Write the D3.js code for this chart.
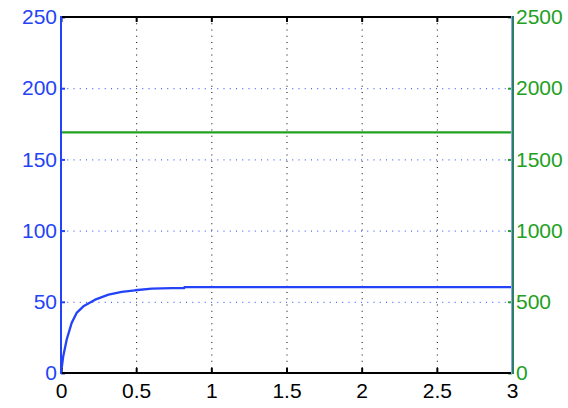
<!DOCTYPE html>
<html>
<head>
<meta charset="utf-8">
<script src="https://cdn.jsdelivr.net/npm/d3@7"></script>
<style>
  body { margin: 0; background: #fff; }
  text { font-family: "Liberation Sans", Arial, sans-serif; }
</style>
</head>
<body>
<script>
// values
const xTicks = [0, 0.5, 1, 1.5, 2, 2.5, 3]
const leftTicks = [0, 50, 100, 150, 200, 250]
const rightTicks = [0, 500, 1000, 1500, 2000, 2500]

// blue series (left axis)
const blueT = [0, 0.015, 0.038, 0.071, 0.104, 0.149, 0.227, 0.316, 0.404, 0.493, 0.604, 0.738, 0.82, 0.821, 3]
const blueV = [0, 11.8, 23.5, 35.2, 42.2, 46.8, 51.5, 55.0, 56.9, 58.1, 59.3, 59.6, 59.7, 60.3, 60.3]

// green series (right axis)
const greenT = [0, 3]
const greenV = [1690, 1690]

const width = 568, height = 408
const margin = {top: 17, right: 56, bottom: 35, left: 61}
const blue = "#2443f7", green = "#21a021"

const svg = d3.select("body").append("svg")
    .attr("width", width)
    .attr("height", height)

const x = d3.scaleLinear().domain([0, 3]).range([margin.left, width - margin.right])
const yL = d3.scaleLinear().domain([0, 250]).range([height - margin.bottom, margin.top])
const yR = d3.scaleLinear().domain([0, 2500]).range([height - margin.bottom, margin.top])

const dots = "1,5.25"

// grid lines
svg.append("g").selectAll("line")
    .data(xTicks.slice(1, -1))
    .join("line")
    .attr("x1", d => x(d) + 0.5).attr("x2", d => x(d) + 0.5)
    .attr("y1", yL(250)).attr("y2", yL(0))
    .attr("stroke", "#000").attr("stroke-dasharray", dots)

svg.append("g").selectAll("line")
    .data(leftTicks.slice(1, -1))
    .join("line")
    .attr("x1", x(0)).attr("x2", x(3))
    .attr("y1", d => yL(d) + 0.5).attr("y2", d => yL(d) + 0.5)
    .attr("stroke", blue).attr("stroke-dasharray", dots)

// series
const lineL = d3.line().x(d => x(d[0])).y(d => yL(d[1]))
const lineR = d3.line().x(d => x(d[0])).y(d => yR(d[1]))

svg.append("path")
    .attr("d", lineL(blueT.map((t, i) => [t, blueV[i]])))
    .attr("fill", "none").attr("stroke", blue).attr("stroke-width", 2.3)
    .attr("stroke-linejoin", "round")

svg.append("path")
    .attr("d", lineR(greenT.map((t, i) => [t, greenV[i]])))
    .attr("fill", "none").attr("stroke", green).attr("stroke-width", 2.2)

// axes
const gBottom = svg.append("g")
    .attr("transform", `translate(0,${height - margin.bottom})`)
    .call(d3.axisBottom(x).tickValues(xTicks).tickFormat(d3.format("")).tickSize(-5).tickPadding(10))
const gTop = svg.append("g")
    .attr("transform", `translate(0,${margin.top})`)
    .call(d3.axisTop(x).tickValues(xTicks).tickFormat("").tickSize(-5))
const gLeft = svg.append("g")
    .attr("transform", `translate(${margin.left},0)`)
    .call(d3.axisLeft(yL).tickValues(leftTicks).tickFormat(d3.format("")).tickSize(-4).tickPadding(4))
const gRight = svg.append("g")
    .attr("transform", `translate(${width - margin.right},0)`)
    .call(d3.axisRight(yR).tickValues(rightTicks).tickFormat(d3.format("")).tickSize(-4).tickPadding(4))

for (const [g, c] of [[gBottom, "#000"], [gTop, "#000"], [gLeft, blue], [gRight, green]]) {
    g.select(".domain").remove()
    g.selectAll(".tick line").attr("stroke", c).attr("stroke-width", 2)
    g.selectAll(".tick text").attr("fill", c).style("font-size", "21px")
}
gBottom.selectAll(".tick text").attr("dy", "0.72em")

// box edges
svg.append("line")
    .attr("x1", x(0)).attr("x2", x(3)).attr("y1", yL(0)).attr("y2", yL(0))
    .attr("stroke", "#000").attr("stroke-width", 2)
svg.append("line")
    .attr("x1", x(0)).attr("x2", x(3)).attr("y1", yL(250)).attr("y2", yL(250))
    .attr("stroke", "#000").attr("stroke-width", 2)
svg.append("line")
    .attr("x1", x(0)).attr("x2", x(0)).attr("y1", yL(0) + 1).attr("y2", yL(250) - 1)
    .attr("stroke", blue).attr("stroke-width", 2)
svg.append("line")
    .attr("x1", x(3) - 0.5).attr("x2", x(3) - 0.5).attr("y1", yL(0) + 1).attr("y2", yL(250) - 1)
    .attr("stroke", "#8fa6ee").attr("stroke-width", 1)
svg.append("line")
    .attr("x1", x(3) + 1).attr("x2", x(3) + 1).attr("y1", yL(0) + 1).attr("y2", yL(250) - 1)
    .attr("stroke", "#2a7f66").attr("stroke-width", 2)
</script>
</body>
</html>
